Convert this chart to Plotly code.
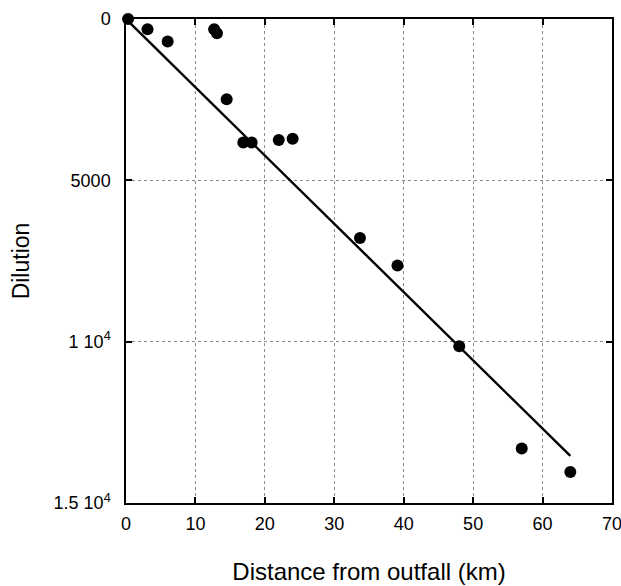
import plotly.graph_objects as go

# Data
distance_km = [0.3, 3.1, 6.0, 12.7, 13.1, 14.5, 16.9, 18.1, 22.0, 24.0, 33.7, 39.1, 48.0, 57.0, 64.0]
dilution = [0, 320, 700, 320, 440, 2490, 3830, 3830, 3750, 3710, 6790, 7640, 10140, 13310, 14040]

fit_x = [0, 64]
fit_slope = 211.6  # dilution per km, line through origin
fit_y = [fit_slope * v for v in fit_x]

x_ticks = [0, 10, 20, 30, 40, 50, 60, 70]
y_tickvals = [0, 5000, 10000, 15000]
y_ticktext = ["0", "5000", "1 10<sup>4</sup>", "1.5 10<sup>4</sup>"]

font_family = "Liberation Sans, Arial, Helvetica, sans-serif"

fig = go.Figure()
fig.add_trace(go.Scatter(x=fit_x, y=fit_y, mode="lines",
                         line=dict(color="black", width=2.4), showlegend=False))
fig.add_trace(go.Scatter(x=distance_km, y=dilution, mode="markers", cliponaxis=False,
                         marker=dict(color="black", size=12), showlegend=False))

axis_common = dict(
    showline=True, linecolor="black", linewidth=1.5, mirror="ticks",
    ticks="inside", ticklen=6, tickwidth=1.5, tickcolor="black",
    showgrid=True, gridcolor="#8a8a8a", gridwidth=1, griddash="dot",
    zeroline=False, automargin=False, ticklabeloverflow="allow",
    tickfont=dict(family=font_family, size=18, color="black"),
)

fig.update_xaxes(range=[0, 70], tickvals=x_ticks, ticklabelstandoff=4,
                 title=dict(text="Distance from outfall (km)",
                            font=dict(family=font_family, size=24, color="black"),
                            standoff=30),
                 **axis_common)
fig.update_yaxes(range=[15000, 0], tickvals=y_tickvals, ticktext=y_ticktext,
                 ticklabelstandoff=10,
                 title=dict(text="Dilution",
                            font=dict(family=font_family, size=23, color="black"),
                            standoff=18),
                 **axis_common)

fig.update_layout(
    width=621, height=586,
    margin=dict(l=126, r=9, t=19, b=83),
    plot_bgcolor="white", paper_bgcolor="white",
    font=dict(family=font_family, color="black"),
)

fig.write_html("out.html")
